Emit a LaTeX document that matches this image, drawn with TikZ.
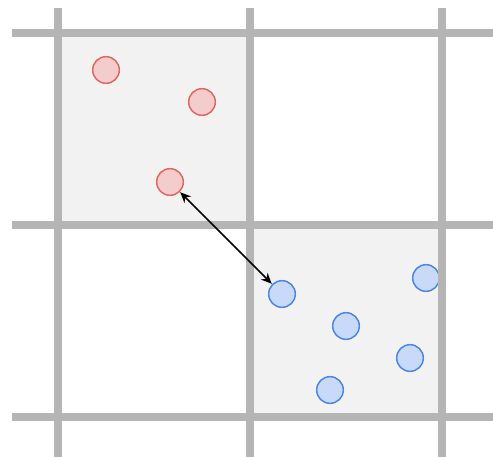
\documentclass[tikz,border=0pt]{standalone}
\usetikzlibrary{arrows.meta}
\definecolor{gridc}{HTML}{B5B5B5}
\definecolor{cellc}{HTML}{F2F2F2}
\definecolor{redf}{HTML}{F4CCCC}
\definecolor{redd}{HTML}{E06666}
\definecolor{bluef}{HTML}{C9DAF8}
\definecolor{blued}{HTML}{4A86E8}
\tikzset{
  gridline/.style={draw=gridc, line width=5.4pt},
  cell/.style={fill=cellc},
  redpt/.style={circle, draw=redd, fill=redf, line width=1.1pt, minimum size=20pt, inner sep=0pt},
  bluept/.style={circle, draw=blued, fill=bluef, line width=1.1pt, minimum size=20pt, inner sep=0pt},
  link/.style={draw=black, line width=1.2pt, {Stealth[length=8pt,width=7pt]}-{Stealth[length=8pt,width=7pt]}, shorten <=0.3pt, shorten >=0.3pt}
}
\begin{document}
\begin{tikzpicture}[x=0.75pt,y=-0.75pt]
\useasboundingbox (0,0) rectangle (493,457);
\fill[cell] (58,33) rectangle (250,225);
\fill[cell] (250,225) rectangle (442,417);
% points
\node[redpt] (r1) at (106,70) {};
\node[redpt] (r2) at (202,102) {};
\node[redpt] (r3) at (170,182) {};
\node[bluept] (b1) at (282,294) {};
\node[bluept] (b2) at (346,326) {};
\node[bluept] (b3) at (410,358) {};
\node[bluept] (b4) at (330,390) {};
\node[bluept] (b5) at (426,278) {};
% grid
\foreach \y in {33,225,417} \draw[gridline] (12,\y) -- (493,\y);
\foreach \x in {58,250,442} \draw[gridline] (\x,8) -- (\x,457);
% link
\draw[link] (r3) -- (b1);
\end{tikzpicture}
\end{document}
